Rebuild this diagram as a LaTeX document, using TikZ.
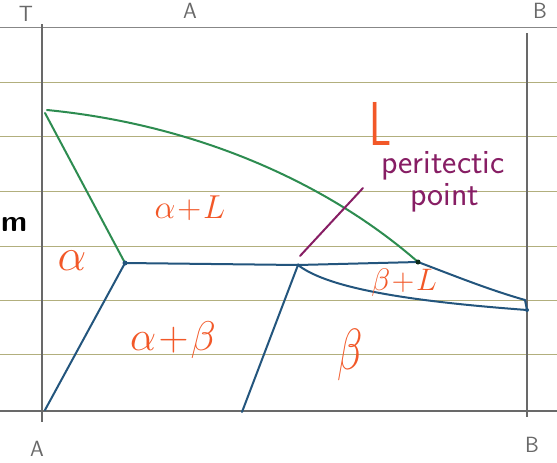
\documentclass[tikz,border=0pt]{standalone}
\usepackage{fontspec}
\begin{document}
\definecolor{rulec}{RGB}{178,175,125}
\definecolor{axisc}{RGB}{105,105,105}
\definecolor{grn}{RGB}{45,140,80}
\definecolor{blu}{RGB}{35,85,125}
\definecolor{org}{RGB}{242,88,40}
\definecolor{pur}{RGB}{135,30,100}
\begin{tikzpicture}[x=1pt,y=-1pt,
  rulestyle/.style={rulec, line width=0.9pt},
  axisline/.style={axisc, line width=1.6pt},
  greenline/.style={grn, line width=2pt, line cap=round, line join=round},
  blueline/.style={blu, line width=2pt, line cap=round, line join=round},
  purline/.style={pur, line width=2pt, line cap=round},
  phase/.style={text=org, inner sep=0pt, font=\fontsize{20}{20}\selectfont},
  pencil/.style={text=axisc, inner sep=0pt, font=\sffamily\fontsize{22}{22}\selectfont},
  jdot/.style={circle, fill=blu, inner sep=0pt, minimum size=5pt}]
\useasboundingbox (0,0) rectangle (557,463);
\fill[white] (0,0) rectangle (557,463);
% ruled paper
\foreach \y in {82,136,191,246,300,354} \draw[rulestyle] (0,\y) -- (557,\y);
\draw[axisc!80, line width=1pt] (0,27) -- (557,27);
\draw[axisline] (0,411) -- (557,411);
% axes
\coordinate (LT) at (42,24);
\coordinate (LB) at (42,422);
\coordinate (RT) at (527,33);
\coordinate (RB) at (527,417);
\draw[axisline, line width=1.9pt] (LT) -- (LB);
\draw[axisline] (RT) -- (RB);
% key points
\coordinate (TA) at (47,110);
\coordinate (TA2) at (45,113);
\coordinate (E1) at (125,263);
\coordinate (P) at (298,265);
\coordinate (Q) at (418,262);
\coordinate (R1) at (525,300);
\coordinate (R2) at (527,310);
\coordinate (A0) at (45,410);
\coordinate (P0) at (242,412);
% green liquidus / solidus
\draw[greenline] (TA) .. controls (200,125) and (330,185) .. (Q);
\draw[greenline] (TA2) -- (E1);
% blue lines
\draw[blueline] (E1) -- (P) -- (Q);
\draw[blueline] (E1) -- (A0);
\draw[blueline] (P) -- (P0);
\draw[blueline] (Q) .. controls (460,278) and (490,290) .. (R1);
\draw[blueline] (P) .. controls (330,290) and (420,302) .. (R2);
\draw[blueline] (R1) -- (R2);
\node[jdot] (d1) at (E1) {};
\node[jdot, minimum size=3.5pt] (d2) at (P) {};
\node[jdot, fill=black!70!grn] (d3) at (Q) {};
\node[jdot, minimum size=4pt] (d4) at (R2) {};
% purple pointer
\coordinate (pa) at (300,256);
\coordinate (pb) at (363,188);
\draw[purline] (pa) -- (pb);
\node[text=pur, inner sep=0pt, font=\sffamily\fontsize{34}{34}\selectfont] (pt1) at (443,166) {peritectic};
\node[text=pur, inner sep=0pt, font=\sffamily\fontsize{34}{34}\selectfont] (pt2) at (445,198) {point};
% phase labels
\node[phase, font=\sffamily\fontsize{62}{62}\selectfont, xscale=0.7] (lL) at (381,124) {L};
\node[phase] (lal) at (190,208) {\scalebox{1.6}{$\alpha\!+\!L$}};
\node[phase] (la) at (72,261) {\scalebox{2.2}{$\alpha$}};
\node[phase] (lab) at (173,340) {\scalebox{2.0}{$\alpha\!+\!\beta$}};
\node[phase] (lb) at (350,355) {\scalebox{2.0}[2.8]{$\beta$}};
\node[phase] (lbl) at (404,283) {\scalebox{1.5}{$\beta\!+\!L$}};
% pencil labels
\node[pencil] (tT) at (26,14) {T};
\node[pencil] (tA) at (190,11) {A};
\node[pencil] (tB) at (540,11) {B};
\node[pencil] (bA) at (37,449) {A};
\node[pencil] (bB) at (532,445) {B};
\node[text=black, inner sep=0pt, anchor=west, font=\sffamily\bfseries\fontsize{30}{30}\selectfont] (mm) at (1,224) {m};
\end{tikzpicture}
\end{document}
